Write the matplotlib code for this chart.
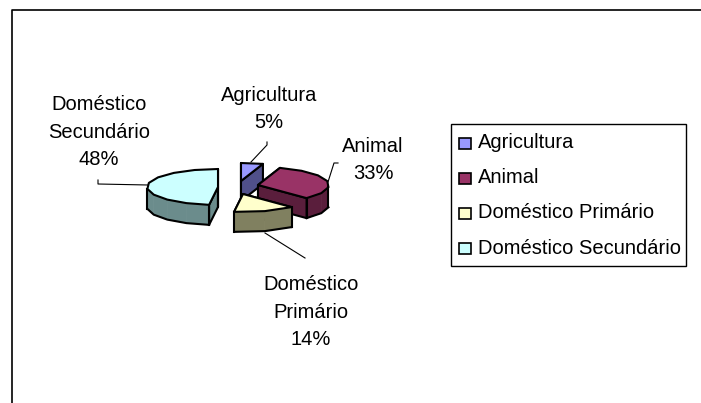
import numpy as np
import matplotlib
matplotlib.use('Agg')
from matplotlib import pyplot as plt
from matplotlib.patches import Polygon, Rectangle

labels = ['Agricultura', 'Animal', 'Doméstico Primário', 'Doméstico Secundário']
values = [5, 33, 14, 48]
top_colors = ['#9999FF', '#993366', '#FFFFCC', '#CCFFFF']
side_colors = ['#50508A', '#5A1E3C', '#808060', '#6B8C8C']
# where each exploded slice has its tip, in pixels
tips = [(241, 181), (258, 185), (243, 194), (218, 187)]
# order the slices get painted, back to front
paint_order = [0, 3, 1, 2]

rx, ry = 71, 18
depth = 20

plt.rcParams['font.family'] = ['Liberation Sans', 'DejaVu Sans']
fig = plt.figure(figsize=(7.01, 4.03), dpi=100)
ax = fig.add_axes([0, 0, 1, 1])
ax.set_xlim(0, 701)
ax.set_ylim(403, 0)
ax.axis('off')

# chart border, only top and left are in the crop
ax.plot([12, 12, 701], [403, 10, 10], color='black', lw=1.2)


def arc(tip, a0, a1):
    # a0, a1 in degrees, clockwise from the top of the pie
    n = max(2, int(abs(a1 - a0) / 18) + 1)
    t = np.radians(np.linspace(a0, a1, n))
    return np.column_stack([tip[0] + rx * np.sin(t), tip[1] - ry * np.cos(t)])


edges = np.cumsum([0] + values) * 3.6
for i in paint_order:
    tip = np.array(tips[i], dtype=float)
    pts = arc(tip, edges[i], edges[i + 1])
    down = np.array([0, depth])
    # cut faces
    for p in (pts[0], pts[-1]):
        face = [tip, p, p + down, tip + down]
        ax.add_patch(Polygon(face, fc=side_colors[i], ec='black', lw=1.5, joinstyle='round'))
    # rim, only the part turned to the viewer
    for j in range(len(pts) - 1):
        a, b = pts[j], pts[j + 1]
        if (a[1] + b[1]) / 2 > tip[1] - 1:
            ax.add_patch(Polygon([a, b, b + down, a + down], fc=side_colors[i],
                                 ec=side_colors[i], lw=0.5))
    lower = pts[pts[:, 1] >= tip[1] - 1]
    if len(lower) > 1:
        ax.plot(lower[:, 0], lower[:, 1] + depth, color='black', lw=1.5)
        ax.plot([lower[0, 0]] * 2, [lower[0, 1], lower[0, 1] + depth], color='black', lw=1.5)
        ax.plot([lower[-1, 0]] * 2, [lower[-1, 1], lower[-1, 1] + depth], color='black', lw=1.5)
    ax.add_patch(Polygon(np.vstack([tip, pts]), fc=top_colors[i], ec='black', lw=1.5, joinstyle='round'))

# data labels and leader lines
fs = 14.5
ax.text(269, 109, 'Agricultura\n5%', ha='center', va='center', fontsize=fs, linespacing=1.58)
ax.text(373, 160, 'Animal\n33%', ha='center', va='center', fontsize=fs, linespacing=1.58)
ax.text(311, 312, 'Doméstico\nPrimário\n14%', ha='center', va='center', fontsize=fs, linespacing=1.58)
ax.text(99, 132, 'Doméstico\nSecundário\n48%', ha='center', va='center', fontsize=fs, linespacing=1.58)
ax.plot([251, 267, 267], [162, 145, 142], color='black', lw=0.8)
ax.plot([328, 334, 338], [182, 163, 163], color='black', lw=0.8)
ax.plot([265, 305], [233, 258], color='black', lw=0.8)
ax.plot([98, 98, 148], [180, 184, 185], color='black', lw=0.8)

# legend
ax.add_patch(Rectangle((451, 124), 235, 142, fc='white', ec='black', lw=1))
for i, name in enumerate(labels):
    y = 142.5 + i * 35.2
    ax.add_patch(Rectangle((459, y - 5), 12, 11, fc=top_colors[i], ec='black', lw=1.2))
    ax.text(478, y, name, ha='left', va='center', fontsize=fs)

fig.savefig('out.png', dpi=100)
